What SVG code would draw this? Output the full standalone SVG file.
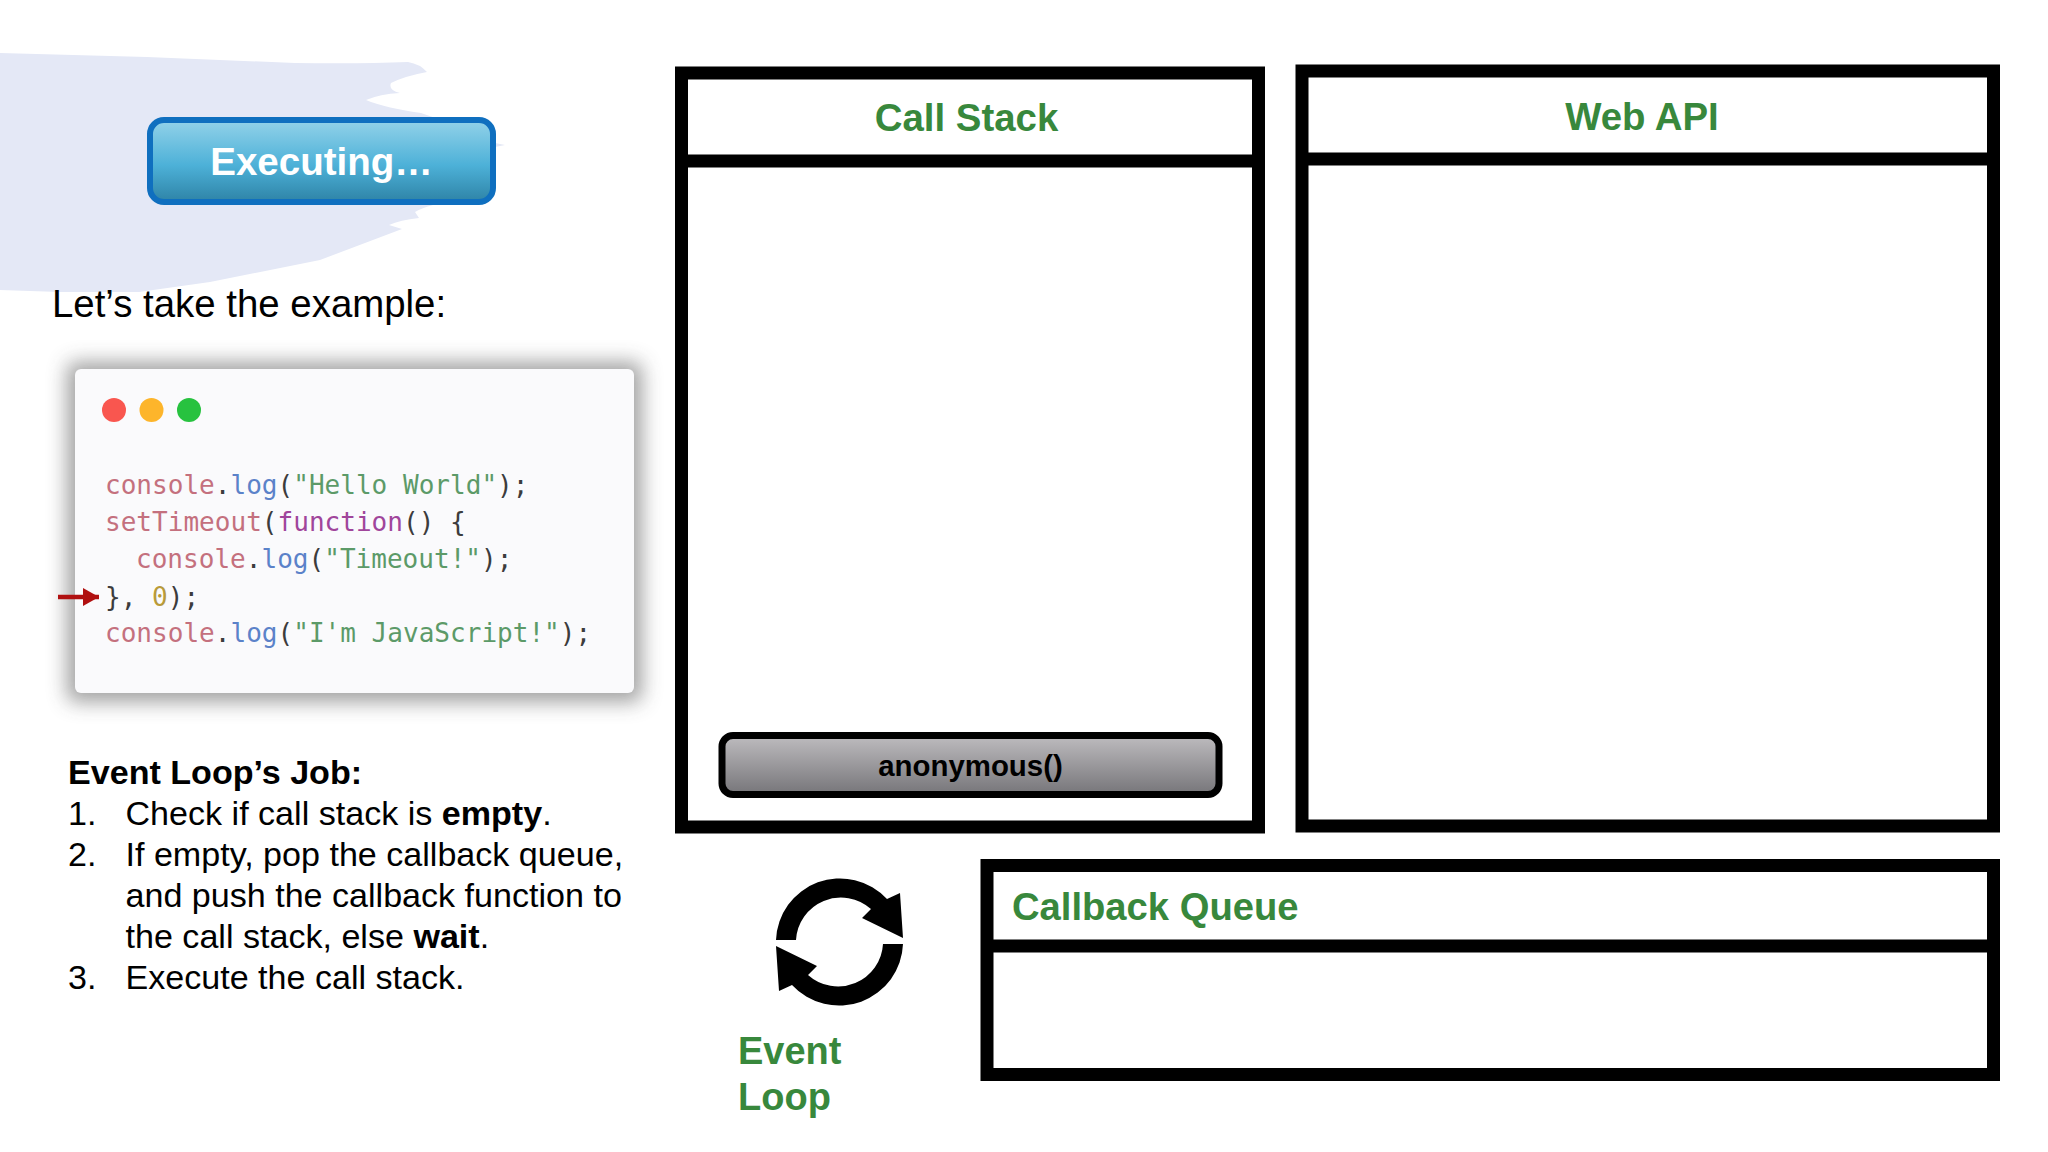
<svg xmlns="http://www.w3.org/2000/svg" width="2048" height="1152" viewBox="0 0 2048 1152">
<style>
text{font-family:"Liberation Sans",Arial,sans-serif}
.box{fill:#fff;stroke:#000;stroke-width:13}
.sep{stroke:#000;stroke-width:13}
.title{fill:#38883c;font-weight:bold;font-size:38.4px}
.body{fill:#000;font-size:34.1px}
.code{font-family:"DejaVu Sans Mono",monospace;font-size:26.050px;fill:#3c3c3c}
.c{fill:#c4707e}.l{fill:#5b82c9}.s{fill:#5c9a68}.f{fill:#a0459b}.n{fill:#b89a3a}
.b{font-weight:bold}
</style>
<defs>
<linearGradient id="blueG" x1="0" y1="0" x2="0" y2="1"><stop offset="0" stop-color="#93d2e9"/><stop offset=".55" stop-color="#4db1d8"/><stop offset="1" stop-color="#2e83a6"/></linearGradient>
<linearGradient id="greyG" x1="0" y1="0" x2="0" y2="1"><stop offset="0" stop-color="#bebcbf"/><stop offset="1" stop-color="#767579"/></linearGradient>
<filter id="shadow" x="-10%" y="-15%" width="120%" height="130%"><feGaussianBlur stdDeviation="10"/></filter>
<marker id="redHead" markerUnits="userSpaceOnUse" markerWidth="18" markerHeight="18" refX="16" refY="9" orient="auto"><path d="M0 0L16 9L0 18z" fill="#b01010"/></marker>
<path id="loopHalf" d="M776 940A64 64 0 0 1 887 899L900 893L903 938L862 918L871 909A45 45 0 0 0 796 940z" fill="#000"/>
</defs>
<rect width="2048" height="1152" fill="#fff"/>
<path id="brush" d="M0 53L147 57L295 63Q360 64 408 62Q420 64 427 72Q405 76 391 83Q388 90 400 93Q380 94 366 100Q385 108 421 113L470 130L495 143L505 145L495 147L480 180L433 205Q422 208 415 212L419 218Q400 220 389 225L402 229L320 260L210 282L139 292L60 292L0 290z" fill="#e4e8f6"/>
<g id="executing"><rect x="150" y="120" width="343" height="82" rx="14" fill="url(#blueG)" stroke="#0f6fbf" stroke-width="6"/>
<text x="321.500" y="175" text-anchor="middle" fill="#fff" class="b" font-size="38.500">Executing…</text></g>
<text x="52" y="317" style="font-size:38.4px" fill="#000">Let’s take the example:</text>
<g id="code-card">
<rect x="67" y="362" width="575" height="340" rx="8" fill="#444" opacity=".5" filter="url(#shadow)"/>
<rect x="75" y="369" width="559" height="324" rx="6" fill="#fafafc"/>
<circle cx="114" cy="410" r="12" fill="#f9564f"/><circle cx="151.500" cy="410" r="12" fill="#fdb52b"/><circle cx="189" cy="410" r="12" fill="#27c23f"/>
<text class="code" x="105" y="494"><tspan class="c">console</tspan>.<tspan class="l">log</tspan>(<tspan class="s">"Hello World"</tspan>);</text>
<text class="code" x="105" y="530.500"><tspan class="c">setTimeout</tspan>(<tspan class="f">function</tspan>() {</text>
<text class="code" x="136" y="568"><tspan class="c">console</tspan>.<tspan class="l">log</tspan>(<tspan class="s">"Timeout!"</tspan>);</text>
<text class="code" x="105" y="605.500">}, <tspan class="n">0</tspan>);</text>
<text class="code" x="105" y="642">
<tspan class="c">console</tspan>.<tspan class="l">log</tspan>(<tspan class="s">"I'm JavaScript!"</tspan>);</text>
</g>
<g id="connectors"><line x1="58" y1="597" x2="99" y2="597" stroke="#b01010" stroke-width="4.500" marker-end="url(#redHead)"/></g>
<g id="job-text">
<text class="body b" x="68" y="783.500">Event Loop’s Job:</text>
<text class="body" x="68" y="824.500">1.</text><text class="body" x="125.500" y="824.500">Check if call stack is <tspan class="b">empty</tspan>.</text>
<text class="body" x="68" y="866">2.</text><text class="body" x="125.500" y="866">If empty, pop the callback queue,</text>
<text class="body" x="125.500" y="907">and push the callback function to</text>
<text class="body" x="125.500" y="948">the call stack, else <tspan class="b">wait</tspan>.</text>
<text class="body" x="68" y="989">3.</text><text class="body" x="125.500" y="989">Execute the call stack.</text>
</g>
<g id="call-stack"><rect class="box" x="681.500" y="73" width="577" height="754"/><line class="sep" x1="681.500" y1="161" x2="1258.500" y2="161"/>
<text class="title" x="966.500" y="131" text-anchor="middle">Call Stack</text>
<g id="anonymous"><rect x="722" y="735.500" width="497" height="59" rx="11" fill="url(#greyG)" stroke="#000" stroke-width="7"/>
<text x="970.500" y="776" text-anchor="middle" class="b" font-size="29.400" fill="#000">anonymous()</text></g></g>
<g id="web-api"><rect class="box" x="1302" y="71" width="691.500" height="755"/><line class="sep" x1="1302" y1="159" x2="1993.500" y2="159"/>
<text class="title" x="1642" y="130" text-anchor="middle">Web API</text></g>
<g id="callback-queue"><rect class="box" x="987" y="865.500" width="1006.500" height="209"/><line class="sep" x1="987" y1="946" x2="1993.500" y2="946"/>
<text class="title" x="1012" y="920" style="font-size:38.200px">Callback Queue</text></g>
<g id="event-loop"><use href="#loopHalf"/><use href="#loopHalf" transform="rotate(180 839.5 942)"/>
<text class="title" x="738" y="1064" style="font-size:38px">Event</text><text class="title" x="738" y="1110" style="font-size:38px">Loop</text></g>
</svg>
